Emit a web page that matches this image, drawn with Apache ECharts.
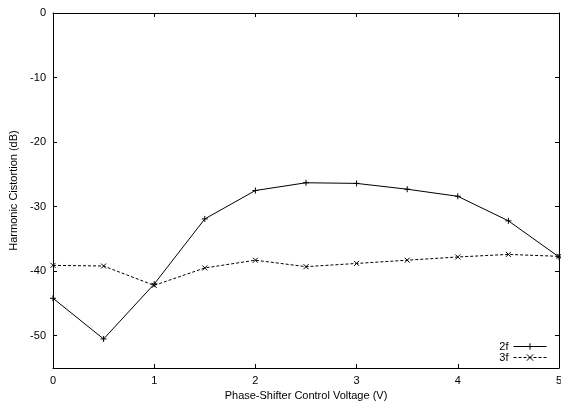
<!DOCTYPE html>
<html>
<head>
<meta charset="utf-8">
<script src="https://cdn.jsdelivr.net/npm/echarts@6/dist/echarts.min.js"></script>
<style>
  html, body { margin: 0; padding: 0; background: #fff; }
  #chart { width: 561px; height: 407px; }
</style>
</head>
<body>
<div id="chart"></div>
<script>
// control voltage (V)
var voltage = [0, 0.5, 1, 1.5, 2, 2.5, 3, 3.5, 4, 4.5, 5];
// 2nd and 3rd harmonic (dB)
var h2 = [-44.2, -50.5, -42.0, -31.9, -27.5, -26.3, -26.4, -27.3, -28.4, -32.2, -37.8];
var h3 = [-39.1, -39.2, -42.2, -39.5, -38.3, -39.3, -38.8, -38.3, -37.8, -37.4, -37.7];
var yTicks = [0, -10, -20, -30, -40, -50];
var xTicks = [0, 1, 2, 3, 4, 5];

function pairs(xs, ys) {
  return xs.map(function (x, i) { return [x, ys[i]]; });
}

var font = 'Liberation Sans, Arial, sans-serif';
var plus = 'path://M0,-1L0,1M-1,0L1,0';
var cross = 'path://M-1,-1L1,1M-1,1L1,-1';
// onZero off, otherwise the mirrored axes snap onto the other axis' zero
var frame = { show: true, onZero: false, lineStyle: { color: '#000', width: 1 } };
var tick = { show: true, inside: true, length: 4, lineStyle: { color: '#000', width: 1 } };

var chart = echarts.init(document.getElementById('chart'));
chart.setOption({
  animation: false,
  backgroundColor: '#fff',
  grid: { left: 53, right: 2, top: 13, bottom: 39, containLabel: false, outerBoundsMode: 'none' },
  legend: {
    right: 14, bottom: 44,
    orient: 'vertical',
    align: 'right',
    padding: 0,
    itemWidth: 33, itemHeight: 8, itemGap: 0,
    textStyle: { fontFamily: font, fontSize: 11, color: '#000', lineHeight: 11 },
    data: [
      { name: '2f', itemStyle: { borderWidth: 1 }, lineStyle: { width: 1 } },
      { name: '3f', itemStyle: { borderWidth: 1 }, lineStyle: { width: 1, type: [3, 2] } }
    ]
  },
  xAxis: [{
    type: 'value', min: 0, max: 5, interval: 1,
    name: 'Phase-Shifter Control Voltage (V)',
    nameLocation: 'middle', nameGap: 22,
    nameTextStyle: { fontFamily: font, fontSize: 11, color: '#000' },
    axisLine: frame,
    axisTick: Object.assign({ customValues: xTicks }, tick),
    axisLabel: { fontFamily: font, fontSize: 11, color: '#000', margin: 7, customValues: xTicks },
    splitLine: { show: false }
  }, {
    type: 'value', min: 0, max: 5, interval: 1, position: 'top',
    axisLine: frame,
    axisTick: Object.assign({ customValues: xTicks }, tick),
    axisLabel: { show: false },
    splitLine: { show: false }
  }],
  yAxis: [{
    type: 'value', min: -55, max: 0,
    name: 'Harmonic Cistortion (dB)',
    nameLocation: 'middle', nameGap: 34,
    nameTextStyle: { fontFamily: font, fontSize: 11, color: '#000' },
    axisLine: frame,
    axisTick: Object.assign({ customValues: yTicks }, tick),
    axisLabel: { fontFamily: font, fontSize: 11, color: '#000', margin: 7, customValues: yTicks },
    splitLine: { show: false }
  }, {
    type: 'value', min: -55, max: 0, position: 'right',
    axisLine: frame,
    axisTick: Object.assign({ customValues: yTicks }, tick),
    axisLabel: { show: false },
    splitLine: { show: false }
  }],
  series: [{
    name: '2f', type: 'line',
    data: pairs(voltage, h2),
    symbol: plus, symbolSize: 6,
    itemStyle: { color: '#000', borderColor: '#000', borderWidth: 1 },
    lineStyle: { color: '#000', width: 1 }
  }, {
    name: '3f', type: 'line',
    data: pairs(voltage, h3),
    symbol: cross, symbolSize: 5,
    itemStyle: { color: '#000', borderColor: '#000', borderWidth: 1 },
    lineStyle: { color: '#000', width: 1, type: [3, 2] }
  }]
});
</script>
</body>
</html>
